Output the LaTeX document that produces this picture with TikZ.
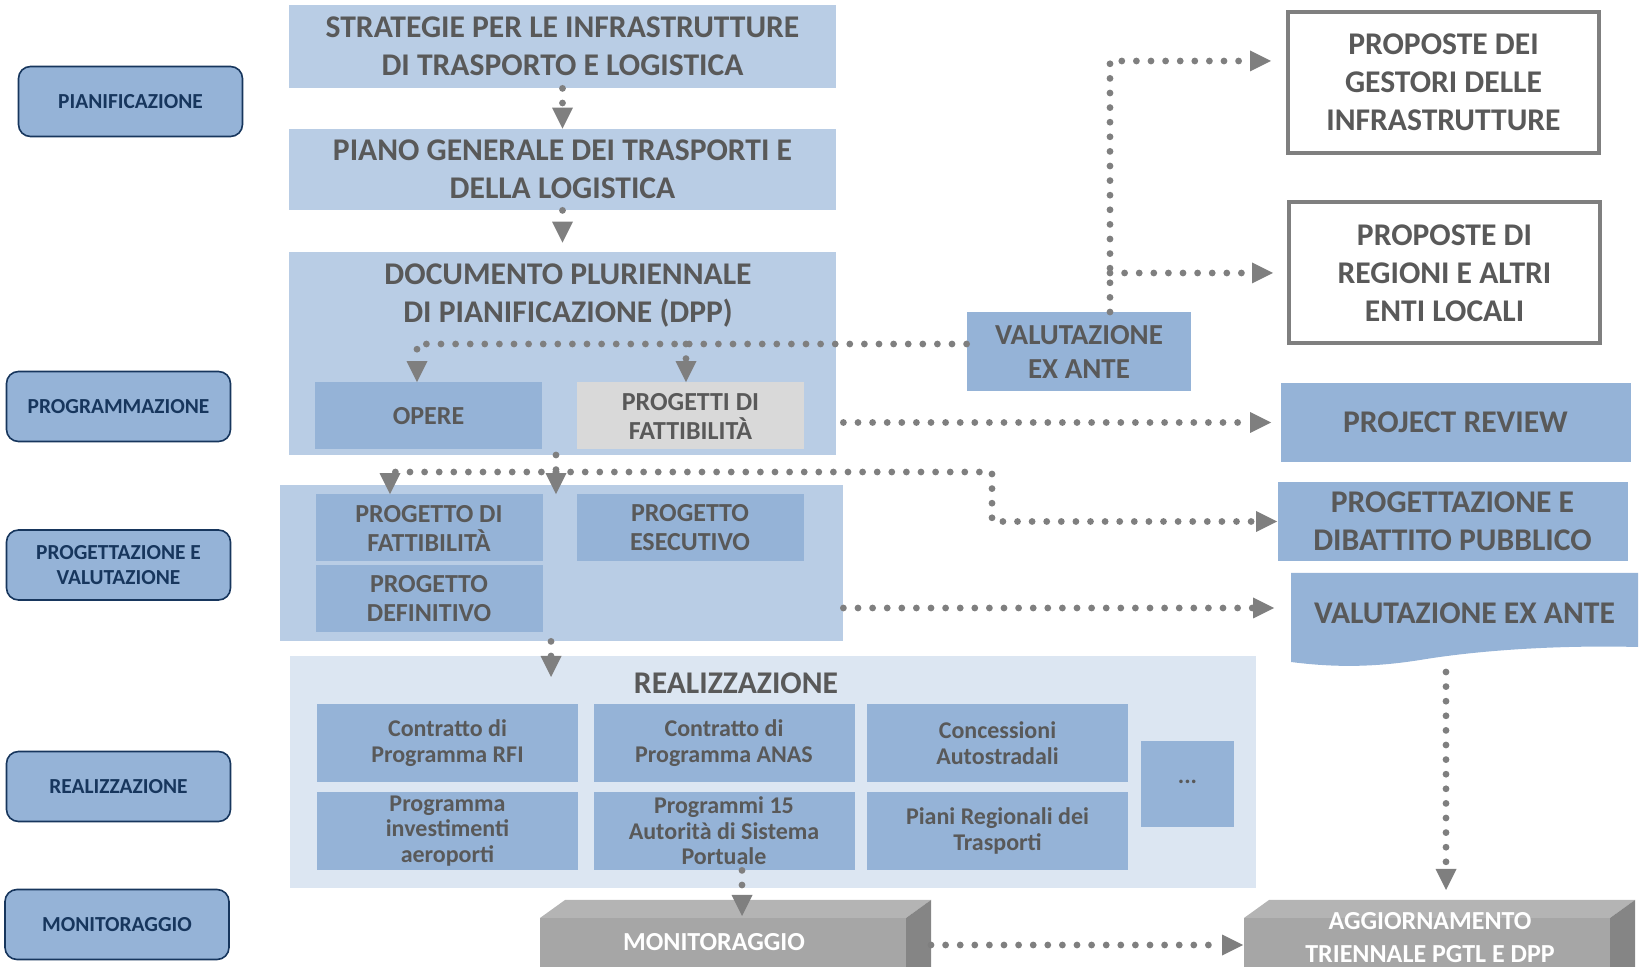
\documentclass[tikz,border=0pt]{standalone}
\usepackage{fontspec}
\setmainfont{Carlito}
\usetikzlibrary{arrows.meta}

\definecolor{boxblue}{HTML}{95B3D7}
\definecolor{paleblue}{HTML}{B9CDE5}
\definecolor{groupblue}{HTML}{DCE6F2}
\definecolor{boxgrey}{HTML}{D9D9D9}
\definecolor{txtgrey}{HTML}{595959}
\definecolor{navy}{HTML}{17365D}
\definecolor{flowgrey}{HTML}{7F7F7F}
\definecolor{cubetop}{HTML}{B4B4B4}
\definecolor{cubefront}{HTML}{A6A6A6}
\definecolor{cubeside}{HTML}{858585}

\tikzset{
  phase/.style={draw=navy, line width=0.8pt, fill=boxblue, rounded corners=6pt,
    text=navy, font=\bfseries\fontsize{10.7}{12.8}\selectfont, align=center,
    minimum width=112pt, minimum height=35pt, inner sep=0pt},
  group/.style={fill=paleblue, minimum width=273.5pt, inner sep=0pt},
  big/.style={fill=paleblue, text=txtgrey, font=\bfseries\fontsize{15.8}{19}\selectfont,
    align=center, minimum width=273.5pt, inner sep=0pt},
  bigtext/.style={text=txtgrey, font=\bfseries\fontsize{15.8}{19}\selectfont, align=center},
  mid/.style={fill=boxblue, text=txtgrey, font=\bfseries\fontsize{13}{14.5}\selectfont,
    align=center, minimum width=113.5pt, minimum height=33.5pt, inner sep=0pt},
  outline/.style={draw=flowgrey, line width=2pt, fill=white, text=txtgrey,
    font=\bfseries\fontsize{15.8}{19}\selectfont, align=center,
    minimum width=155.5pt, minimum height=70.5pt, inner sep=0pt},
  side/.style={fill=boxblue, text=txtgrey, font=\bfseries\fontsize{15.8}{19}\selectfont,
    align=center, minimum width=175pt, minimum height=39.5pt, inner sep=0pt},
  small/.style={fill=boxblue, text=txtgrey, font=\bfseries\fontsize{12}{12.8}\selectfont,
    align=center, minimum width=130.5pt, minimum height=39pt, inner sep=0pt},
  cubetxt/.style={text=white, font=\bfseries\fontsize{13}{16.5}\selectfont, align=center},
  flow/.style={draw=flowgrey, line width=3.4pt, line cap=round, dash pattern=on 0pt off 7.3pt,
    -{Triangle[width=10.5pt,length=10.5pt,line width=0pt]}}
}

\begin{document}
\begin{tikzpicture}[x=0.5pt,y=-0.5pt]
\useasboundingbox (0,0) rectangle (1640,967);
\clip (0,0) rectangle (1640,967);

% phases
\node[phase] (pianif) at (130.5,101.5) {PIANIFICAZIONE};
\node[phase] (progr) at (118.5,406.5) {PROGRAMMAZIONE};
\node[phase] (progval) at (118.5,565) {PROGETTAZIONE E\\VALUTAZIONE};
\node[phase] (realizz) at (118.5,786.5) {REALIZZAZIONE};
\node[phase] (monitor) at (117,924.5) {MONITORAGGIO};

% groups
\node[group, minimum height=101.5pt] (dpp) at (562.5,353.5) {};
\node[group, minimum width=281.5pt, minimum height=78pt] (prog) at (561.5,563) {};
\node[group, fill=groupblue, minimum width=483pt, minimum height=116pt] (realiz) at (773,772) {};

% planning
\node[big, minimum height=41.5pt] (strat) at (562.5,46.5) {STRATEGIE PER LE INFRASTRUTTURE\\DI TRASPORTO E LOGISTICA};
\node[big, minimum height=40.5pt] (piano) at (562.5,169.5) {PIANO GENERALE DEI TRASPORTI E\\DELLA LOGISTICA};
\node[bigtext] (dpptitle) at (568,296) {DOCUMENTO PLURIENNALE\\DI PIANIFICAZIONE (DPP)};
\node[mid] (opere) at (428.5,416) {OPERE};
\node[mid, fill=boxgrey, text depth=0pt] (progfatt) at (690.5,416) {PROGETTI DI\\FATTIBILITÀ};
\node[mid, font=\bfseries\fontsize{14.5}{17}\selectfont, minimum width=112pt, minimum height=39.5pt] (valut) at (1079,351.5) {VALUTAZIONE\\EX ANTE};

% design
\node[mid] (pfatt) at (429,528) {PROGETTO DI\\FATTIBILITÀ};
\node[mid] (pesec) at (690,528) {PROGETTO\\ESECUTIVO};
\node[mid] (pdef) at (429,599) {PROGETTO\\DEFINITIVO};

% right column
\node[outline] (propdei) at (1443.5,82.5) {PROPOSTE DEI\\GESTORI DELLE\\INFRASTRUTTURE};
\node[outline] (propreg) at (1444.5,273) {PROPOSTE DI\\REGIONI E ALTRI\\ENTI LOCALI};
\node[side] (review) at (1455.5,422.5) {PROJECT REVIEW};
\node[side] (dibatt) at (1452.5,521.5) {PROGETTAZIONE E\\DIBATTITO PUBBLICO};
\fill[boxblue] (1291,573) -- (1638,573) -- (1638,647) .. controls (1560,645) and (1480,650) .. (1420,660)
  .. controls (1370,668) and (1330,667) .. (1291,662) -- cycle;
\node[bigtext] (exante) at (1464.5,613) {VALUTAZIONE EX ANTE};

% realisation
\node[bigtext] (realtitle) at (736,683) {REALIZZAZIONE};
\node[small] (rfi) at (447.5,743) {Contratto di\\Programma RFI};
\node[small] (anas) at (724,743) {Contratto di\\Programma ANAS};
\node[small] (conc) at (997.5,743) {Concessioni\\Autostradali};
\node[small] (aero) at (447.5,831) {Programma\\investimenti\\aeroporti};
\node[small] (porti) at (724,831) {Programmi 15\\Autorità di Sistema\\Portuale};
\node[small] (piani) at (997.5,831) {Piani Regionali dei\\Trasporti};
\node[small, minimum width=46.5pt, minimum height=43pt, text depth=2pt] (altri) at (1187.5,784) {...};

% cubes
\fill[cubetop] (540,918) -- (565,900) -- (931,900) -- (906,918) -- cycle;
\fill[cubefront] (540,918) rectangle (906,990);
\fill[cubeside] (906,918) -- (931,900) -- (931,990) -- (906,990) -- cycle;
\node[cubetxt] (monit) at (714,942) {MONITORAGGIO};
\fill[cubetop] (1244,918) -- (1269,900) -- (1635,900) -- (1610,918) -- cycle;
\fill[cubefront] (1244,918) rectangle (1610,990);
\fill[cubeside] (1610,918) -- (1635,900) -- (1635,990) -- (1610,990) -- cycle;
\node[cubetxt] (aggior) at (1430,938) {AGGIORNAMENTO\\TRIENNALE PGTL E DPP};

% bends
\coordinate (kope) at (417,344);
\coordinate (kfat) at (686,344);
\coordinate (kval) at (1110,312);
\coordinate (kdpp) at (556,455);
\coordinate (kmid) at (556,472);
\coordinate (kleft) at (390,472);
\coordinate (kright) at (992,472);
\coordinate (exW) at (1291,608);
\coordinate (kreal) at (551,677);
\coordinate (monitN) at (742,916);
\coordinate (exS) at (1446,672);
\coordinate (aggiorN) at (1446,890);
\coordinate (monitE) at (931,945);
\coordinate (aggiorW) at (1243,945);

% arrows
\draw[flow] (strat) -- (piano);
\draw[flow, shorten >=4.5pt] (piano) -- (dpp);
\draw[flow] (valut.west |- kope) -- (kope) -- (kope |- opere.north);
\draw[flow] (kfat) -- (kfat |- progfatt.north);
\draw[flow, shorten >=7.5pt] (kval) |- ([yshift=10.75pt]propdei.west);
\draw[flow, shorten >=7pt] (kval |- propreg.west) -- (propreg.west);
\draw[flow, shorten <=3.5pt, shorten >=4.5pt] (dpp.east |- review.west) -- (review.west);
\draw[flow] (kdpp) -- (kdpp |- pfatt.north);
\draw[flow] (kmid) -- (kleft) -- (kleft |- pfatt.north);
\draw[flow] (kmid) -- (kright) |- (dibatt.west);
\draw[flow, shorten >=8.5pt] (prog.east |- exW) -- (exW);
\draw[flow] (prog.south -| kreal) -- (kreal);
\draw[flow] (porti.south -| monitN) -- (monitN);
\draw[flow] (exS) -- (aggiorN);
\draw[flow] (monitE) -- (aggiorW);
\end{tikzpicture}
\end{document}
